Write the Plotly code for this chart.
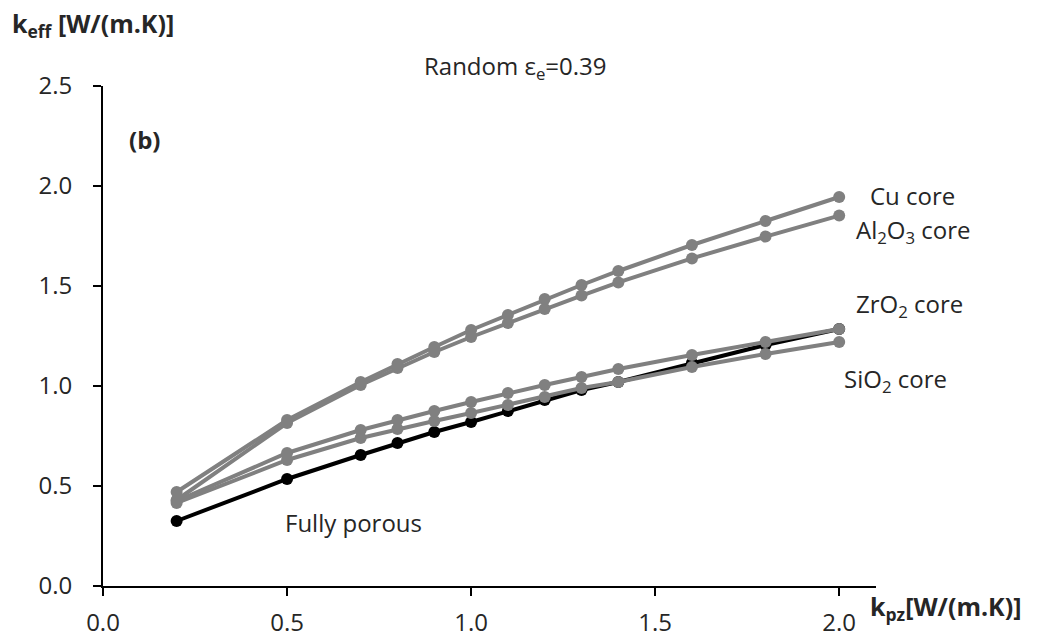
import plotly.graph_objects as go

# Porous-zone conductivity k_pz [W/(m.K)]
k_pz = [0.2, 0.5, 0.7, 0.8, 0.9, 1.0, 1.1, 1.2, 1.3, 1.4, 1.6, 1.8, 2.0]

# Effective conductivity k_eff [W/(m.K)] for each core material
fully_porous = [0.325, 0.535, 0.655, 0.715, 0.77, 0.82, 0.875, 0.93, 0.98, 1.02, 1.115, 1.205, 1.285]
cu_core = [0.47, 0.83, 1.02, 1.11, 1.195, 1.28, 1.355, 1.435, 1.505, 1.575, 1.705, 1.825, 1.945]
al2o3_core = [0.43, 0.815, 1.005, 1.09, 1.17, 1.245, 1.315, 1.385, 1.452, 1.518, 1.638, 1.747, 1.852]
zro2_core = [0.425, 0.665, 0.78, 0.83, 0.875, 0.92, 0.965, 1.005, 1.045, 1.085, 1.155, 1.22, 1.285]
sio2_core = [0.415, 0.63, 0.74, 0.785, 0.825, 0.865, 0.905, 0.945, 0.99, 1.02, 1.095, 1.16, 1.22]

GRAY = "#808080"
TEXT = "#262626"
FONT = "Open Sans"

fig = go.Figure()

fig.add_trace(go.Scatter(
    x=k_pz, y=fully_porous, mode="lines+markers", name="Fully porous",
    line=dict(color="black", width=4), marker=dict(color="black", size=12),
))
for name, vals in [("Cu core", cu_core), ("Al2O3 core", al2o3_core),
                   ("ZrO2 core", zro2_core), ("SiO2 core", sio2_core)]:
    fig.add_trace(go.Scatter(
        x=k_pz, y=vals, mode="lines+markers", name=name,
        line=dict(color=GRAY, width=4), marker=dict(color=GRAY, size=12),
    ))

axis_common = dict(
    showline=True, linecolor="black", linewidth=1.8,
    ticks="outside", ticklen=8, tickwidth=1.8, tickcolor="black",
    showgrid=False, zeroline=False, tickformat=".1f", automargin=False,
    tickfont=dict(family=FONT, size=24, color=TEXT),
)

fig.update_xaxes(range=[0, 2.1], tickvals=[0, 0.5, 1.0, 1.5, 2.0],
                 ticklabelstandoff=6, **axis_common)
fig.update_yaxes(range=[0, 2.5], tickvals=[0, 0.5, 1.0, 1.5, 2.0, 2.5],
                 ticklabelstandoff=16, **axis_common)

annotations = [
    dict(text="Random ε<sub>e</sub>=0.39", x=0.533, y=1.038, xanchor="center", yanchor="middle"),
    dict(text="<b>(b)</b>", x=0.031, y=0.894, xanchor="left", yanchor="middle"),
    dict(text="<b>k<sub>eff</sub> [W/(m.K)]</b>", x=-0.12, y=1.122, xanchor="left", yanchor="middle", size=25),
    dict(text="<b>k<sub>pz</sub>[W/(m.K)]</b>", x=0.9897, y=-0.042, xanchor="left", yanchor="middle", size=25),
    dict(text="Cu core", x=1.0466, y=0.782, xanchor="center", yanchor="middle"),
    dict(text="Al<sub>2</sub>O<sub>3</sub> core", x=1.049, y=0.71, xanchor="center", yanchor="middle"),
    dict(text="ZrO<sub>2</sub> core", x=1.043, y=0.562, xanchor="center", yanchor="middle"),
    dict(text="SiO<sub>2</sub> core", x=1.0246, y=0.412, xanchor="center", yanchor="middle"),
    dict(text="Fully porous", x=(353 - 103) / 773, y=0.128, xanchor="center", yanchor="middle"),
]
for a in annotations:
    size = a.pop("size", 24)
    fig.add_annotation(xref="paper", yref="paper", showarrow=False,
                       font=dict(family=FONT, size=size, color=TEXT), **a)

fig.update_layout(
    width=1044, height=639,
    margin=dict(l=103, r=168, t=86, b=53, autoexpand=False),
    paper_bgcolor="white", plot_bgcolor="white",
    showlegend=False,
)

fig.write_html("out.html")
